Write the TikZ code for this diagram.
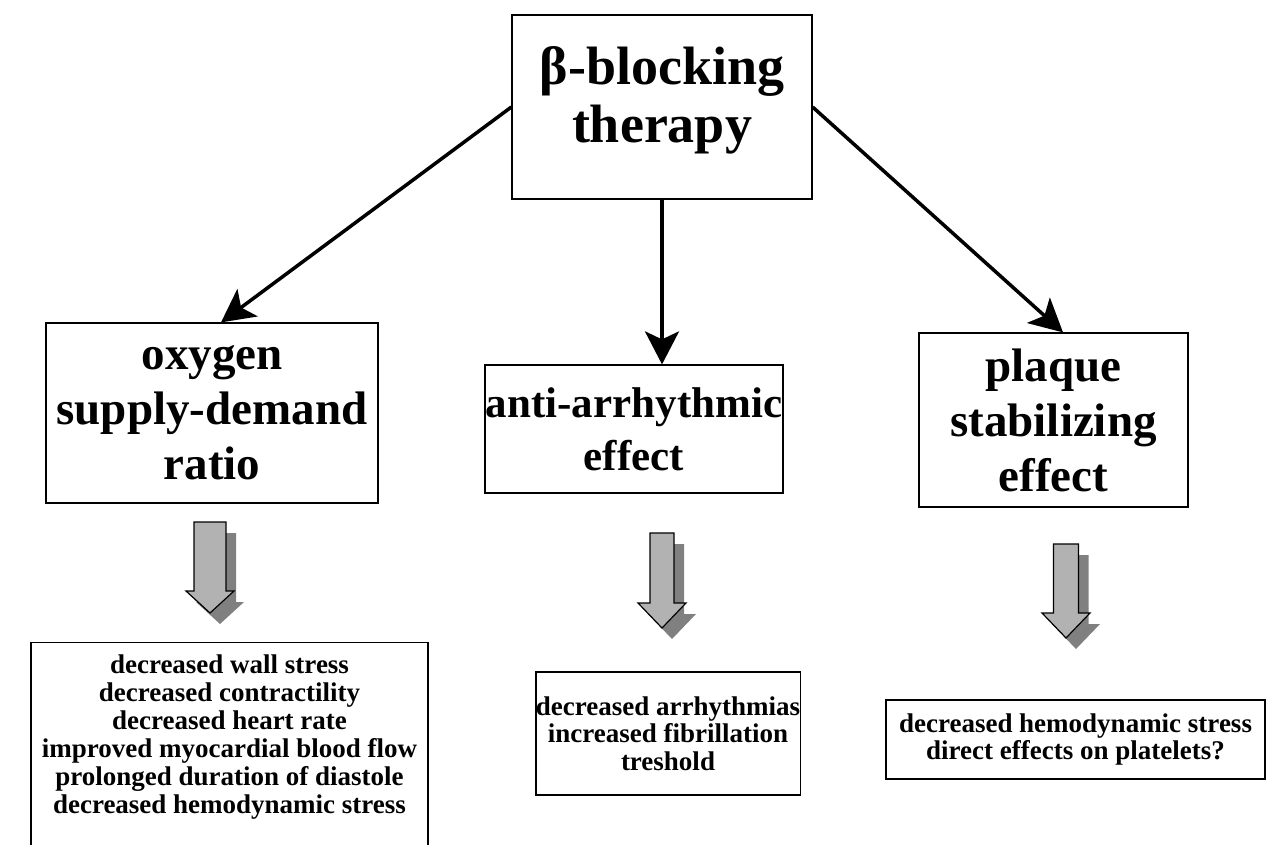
\documentclass[tikz,border=0pt]{standalone}
\usepackage{fontspec}
\setmainfont{Liberation Serif}
\usetikzlibrary{arrows.meta}

\tikzset{
    box/.style={draw, line width=1.2pt, align=center, inner sep=0pt, font=\bfseries},
    hugetext/.style={font=\bfseries\fontsize{54}{58}\selectfont},
    bigtext/.style={font=\bfseries\fontsize{47}{55}\selectfont},
    midtext/.style={font=\bfseries\fontsize{43}{53}\selectfont},
    smalltext/.style={font=\bfseries\fontsize{27}{27.5}\selectfont},
    link/.style={line width=3.5pt, -{Stealth[length=33pt,width=34pt,inset=8pt]}},
}

\begin{document}
\begin{tikzpicture}[x=1pt,y=-1pt]
        \useasboundingbox (0,0) rectangle (1273,845);

        % Draw the therapy box
        \node[box, hugetext, minimum width=300pt, minimum height=184pt, text depth=26pt] (therapy) at (662,107) {β-blocking\\therapy};

        % Draw the effect boxes
        \node[box, bigtext, minimum width=332pt, minimum height=180pt] (oxygen) at (212,413) {oxygen\\supply-demand\\ratio};
        \node[box, midtext, minimum width=298pt, minimum height=128pt] (antiarr) at (634,429) {anti-arrhythmic\\effect};
        \node[box, bigtext, minimum width=269pt, minimum height=174pt] (plaque) at (1053.5,420) {plaque\\stabilizing\\effect};

        % Draw the result boxes
        \node[box, smalltext, font=\bfseries\fontsize{27}{28}\selectfont, anchor=north, minimum width=397pt, inner ysep=12pt, text depth=50pt] (oxyres) at (229.5,642)
            {decreased wall stress\\decreased contractility\\decreased heart rate\\improved myocardial blood flow\\prolonged duration of diastole\\decreased hemodynamic stress};
        \node[box, smalltext, minimum width=256pt, minimum height=123pt] (antires) at (668,733.5)
            {decreased arrhythmias\\increased fibrillation\\treshold};
        \node[box, smalltext, minimum width=379pt, minimum height=79pt] (plaqueres) at (1075.5,739.5)
            {decreased hemodynamic stress\\direct effects on platelets?};

        % Draw the arrows
        \draw[link] (therapy.west) -- ([xshift=9pt]oxygen.north);
        \draw[link] (therapy.south) -- (therapy.south |- antiarr.north);
        \draw[link] (therapy.east) -- ([xshift=9.5pt]plaque.north);

        % Draw the shaded block arrows
        \foreach \cx/\ya/\yb/\yc/\sw in {210/522/591/613/16, 662/533/603/628/12, 1066/544/613/638/12.5} {
            \fill[gray, shift={(10,11)}] (\cx-\sw,\ya) -- (\cx+\sw,\ya) -- (\cx+\sw,\yb) -- (\cx+24,\yb)
                -- (\cx,\yc) -- (\cx-24,\yb) -- (\cx-\sw,\yb) -- cycle;
            \filldraw[fill=gray!60, draw=black, line width=1.2pt] (\cx-\sw,\ya) -- (\cx+\sw,\ya) -- (\cx+\sw,\yb) -- (\cx+24,\yb)
                -- (\cx,\yc) -- (\cx-24,\yb) -- (\cx-\sw,\yb) -- cycle;
        }
    \end{tikzpicture}
\end{document}
